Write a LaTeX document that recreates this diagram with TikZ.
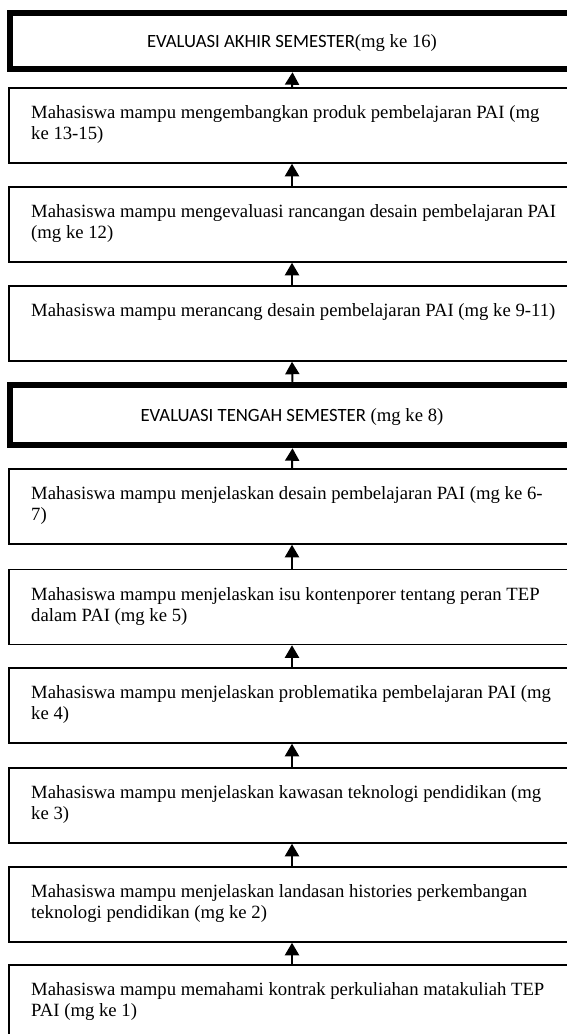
\documentclass[tikz,border=0pt]{standalone}
\usepackage{fontspec}
\setmainfont{Liberation Serif}
\newfontfamily\calfont{Carlito}
\usetikzlibrary{arrows.meta}
\begin{document}
\begin{tikzpicture}[x=1pt,y=-1pt,
  box/.style={draw=black, line width=1.5pt, minimum width=566pt, minimum height=75pt, inner sep=0pt, fill=white},
  thickbox/.style={draw=black, line width=6.5pt, minimum width=565pt, inner sep=0pt, fill=white},
  txt/.style={anchor=base west, inner sep=0pt, align=left, font=\fontsize{18.7}{21}\selectfont},
  evtxt/.style={anchor=base, inner sep=0pt, font=\fontsize{18.7}{21}\selectfont},
  arr/.style={line width=2pt, -{Triangle[width=14pt,length=12.5pt]}}]
\useasboundingbox (0,0) rectangle (567,1034);
\clip (0,0) rectangle (567,1034);
\fill[white] (0,0) rectangle (567,1034);
% boxes
\node[thickbox, minimum height=56pt] (b1) at (292.5,41) {};
\node[box] (b2) at (292,125.5) {};
\node[box] (b3) at (292,224.5) {};
\node[box] (b4) at (292,323.5) {};
\node[thickbox, minimum height=60pt] (b5) at (292.5,415) {};
\node[box] (b6) at (292,506.5) {};
\node[box] (b7) at (292,607) {};
\node[box] (b8) at (292,705.5) {};
\node[box] (b9) at (292,805.5) {};
\node[box] (b10) at (292,904.5) {};
\node[box] (b11) at (292,1002.5) {};
% texts (base anchor = baseline of the last line)
\node[evtxt] (t1) at (292,47) {{\calfont EVALUASI AKHIR SEMESTER}(mg ke 16)};
\node[txt] (t2) at (31,139) {Mahasiswa mampu mengembangkan produk pembelajaran PAI (mg\\ke 13-15)};
\node[txt] (t3) at (31,238) {Mahasiswa mampu mengevaluasi rancangan desain pembelajaran PAI\\(mg ke 12)};
\node[txt] (t4) at (31,316) {Mahasiswa mampu merancang desain pembelajaran PAI (mg ke 9-11)};
\node[evtxt] (t5) at (292,421) {{\calfont EVALUASI TENGAH SEMESTER} (mg ke 8)};
\node[txt] (t6) at (31,520) {Mahasiswa mampu menjelaskan desain pembelajaran PAI (mg ke 6-\\7)};
\node[txt] (t7) at (31,621) {Mahasiswa mampu menjelaskan isu kontenporer tentang peran TEP\\dalam PAI (mg ke 5)};
\node[txt] (t8) at (31,719) {Mahasiswa mampu menjelaskan problematika pembelajaran PAI (mg\\ke 4)};
\node[txt] (t9) at (31,819) {Mahasiswa mampu menjelaskan kawasan teknologi pendidikan (mg\\ke 3)};
\node[txt] (t10) at (31,918) {Mahasiswa mampu menjelaskan landasan histories perkembangan\\teknologi pendidikan (mg ke 2)};
\node[txt] (t11) at (31,1016) {Mahasiswa mampu memahami kontrak perkuliahan matakuliah TEP\\PAI (mg ke 1)};
% arrows
\draw[arr] (b2.north) -- (b1.south);
\draw[arr] (b3.north) -- (b2.south);
\draw[arr] (b4.north) -- (b3.south);
\draw[arr] (b5.north) -- (b4.south);
\draw[arr] (b6.north) -- (b5.south);
\draw[arr] (b7.north) -- (b6.south);
\draw[arr] (b8.north) -- (b7.south);
\draw[arr] (b9.north) -- (b8.south);
\draw[arr] (b10.north) -- (b9.south);
\draw[arr] (b11.north) -- (b10.south);
\end{tikzpicture}
\end{document}
